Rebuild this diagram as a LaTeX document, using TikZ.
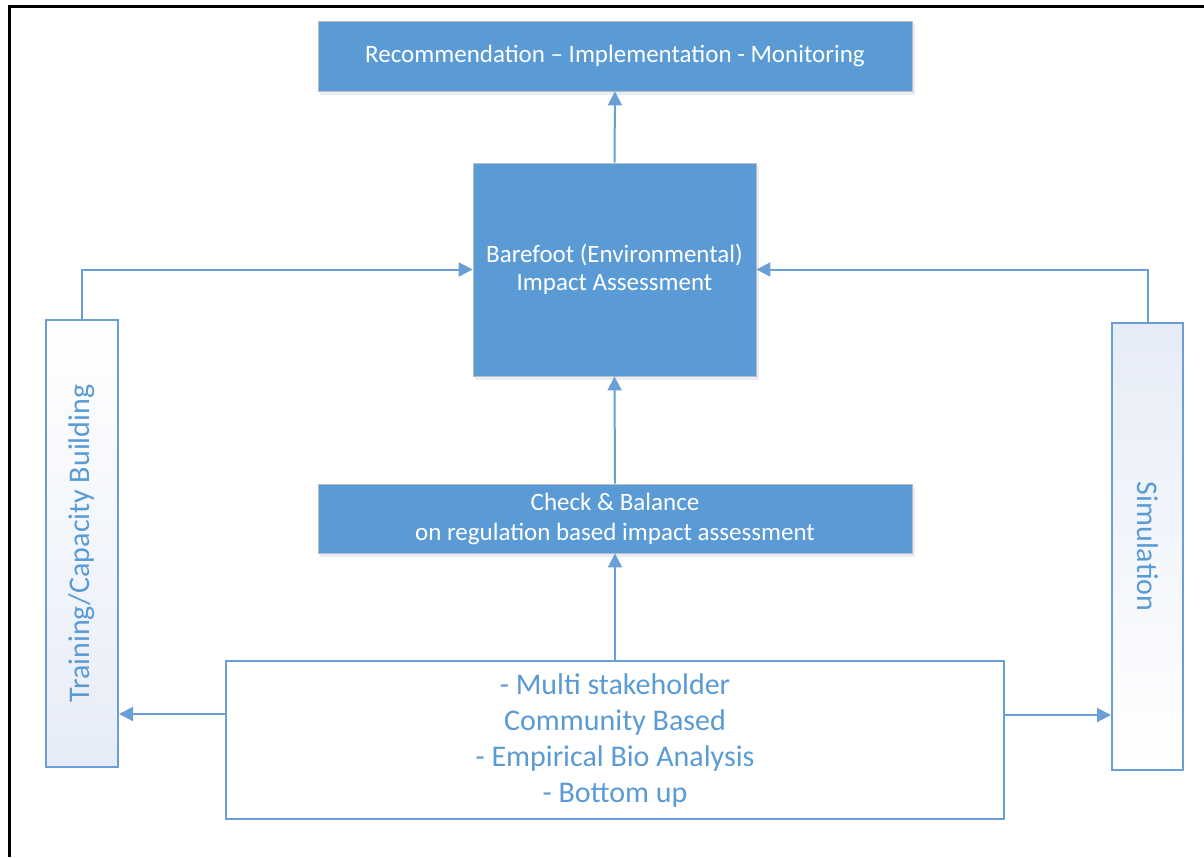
\documentclass[tikz,border=0pt]{standalone}
\usepackage{fontspec}
\setmainfont{Carlito}
\usetikzlibrary{arrows.meta}
\definecolor{boxblue}{HTML}{5B9BD5}
\definecolor{edgeblue}{HTML}{6A9FD6}
\definecolor{paleblue}{HTML}{E6ECF7}
\definecolor{shade}{HTML}{DCE6F2}
\tikzset{
  solidbox/.style={draw=shade!60!gray, line width=0.8pt, fill=boxblue, text=white, align=center, inner sep=0pt},
  outlinebox/.style={draw=edgeblue, line width=2pt, fill=white, text=boxblue, align=center, inner sep=0pt},
  sidebox/.style={draw=edgeblue, line width=2pt, text=boxblue, inner sep=0pt},
  link/.style={draw=edgeblue, line width=2pt, -{Triangle[length=14pt,width=14pt]}},
}
\begin{document}
\begin{tikzpicture}[x=1pt,y=-1pt]
\useasboundingbox (0,0) rectangle (1204,857);
% frame edges
\draw[line width=3pt] (9,857) -- (9,6) -- (1204,6);

% soft drop shadows under the filled boxes
\fill[shade!70] (320,24) rectangle (915,95);
\fill[shade!70] (475,166) rectangle (759,380);
\fill[shade!70] (320,487) rectangle (915,557);

\node[solidbox, minimum width=594pt, minimum height=70pt, font=\fontsize{25}{28}\selectfont]
  (rim) at (615,56) {Recommendation -- Implementation - Monitoring};
\node[solidbox, minimum width=283pt, minimum height=213pt, font=\fontsize{25}{28}\selectfont]
  (bia) at (614.5,269.5) {Barefoot (Environmental)\\Impact Assessment};
\node[solidbox, minimum width=594pt, minimum height=69pt, font=\fontsize{25}{30}\selectfont]
  (cb) at (615,518.5) {Check \& Balance\\on regulation based impact assessment};
\node[outlinebox, minimum width=778pt, minimum height=158pt, font=\fontsize{30}{36}\selectfont]
  (base) at (615,740) {- Multi stakeholder\\Community Based\\- Empirical Bio Analysis\\- Bottom up};
\node[sidebox, top color=white, bottom color=paleblue, minimum width=72pt, minimum height=447pt]
  (train) at (82,543.5) {};
\node[rotate=90, text=boxblue, font=\fontsize{30}{34}\selectfont] at (train.center) {Training/Capacity Building};
\node[sidebox, top color=paleblue, bottom color=white, minimum width=71pt, minimum height=447pt]
  (sim) at (1147.5,546.5) {};
\node[rotate=-90, text=boxblue, font=\fontsize{30}{34}\selectfont] at (sim.center) {Simulation};

% connectors
\draw[link] (bia.north) -- (rim.south);
\draw[link] (cb.north) -- (bia.south);
\draw[link] (base.north) -- (cb.south);
\draw[link] (base.west |- 0,714) -- (train.east |- 0,714);
\draw[link] (base.east |- 0,715) -- (sim.west |- 0,715);
\draw[link] (train.north) |- (bia.west);
\draw[link] (sim.north) |- (bia.east);
\end{tikzpicture}
\end{document}
